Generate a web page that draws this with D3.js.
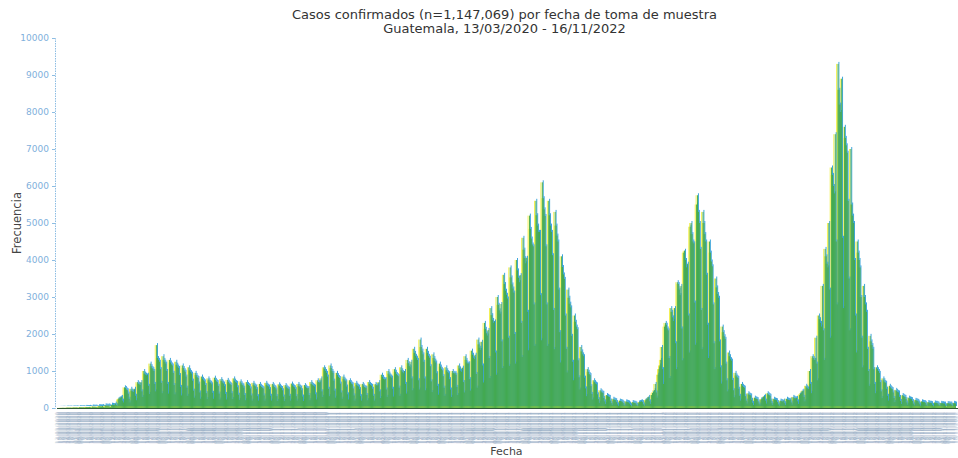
<!DOCTYPE html>
<html>
<head>
<meta charset="utf-8">
<script src="https://cdn.jsdelivr.net/npm/d3@7"></script>
<style>
body { margin: 0; background: #fff; }
text { font-family: "DejaVu Sans", Verdana, sans-serif; }
</style>
</head>
<body>
<svg width="958" height="458"></svg>
<script>
var titulo = ["Casos confirmados (n=1,147,069) por fecha de toma de muestra",
	"Guatemala, 13/03/2020 - 16/11/2022"];
var fechaInicio = "2020-03-13",
	fechaFin = "2022-11-16";
var yTicks = [0, 1000, 2000, 3000, 4000, 5000, 6000, 7000, 8000, 9000, 10000];

// casos diarios, una fila por semana (vie..jue)
var casos = [
	1,0,1,3,2,4,5,
	6,3,2,9,10,8,9,
	12,7,4,15,14,13,12,
	16,10,6,20,19,18,17,
	24,15,9,30,28,26,25,
	31,20,12,40,37,35,34,
	39,25,15,50,47,44,43,
	55,35,21,70,65,62,60,
	70,45,27,90,84,79,77,
	120,80,60,230,250,260,280,
	300,200,150,560,540,500,480,
	390,250,150,520,470,450,430,
	520,330,210,700,660,640,620,
	700,450,300,1000,930,900,880,
	900,600,380,1200,1130,1080,1050,
	1000,650,450,1700,1350,1300,1250,
	1050,680,400,1400,1300,1250,1200,
	1000,650,390,1300,1230,1180,1150,
	950,620,370,1250,1170,1120,1080,
	890,570,340,1150,1080,1020,980,
	850,550,330,1100,1020,970,930,
	740,470,280,950,890,840,810,
	660,420,250,850,790,750,720,
	620,400,240,800,750,700,680,
	640,410,250,820,760,720,700,
	600,390,230,780,730,690,660,
	590,380,230,760,710,670,650,
	620,400,240,800,740,700,680,
	560,360,220,720,670,630,610,
	550,350,210,700,650,620,600,
	530,340,200,680,630,600,580,
	510,320,200,650,600,570,550,
	530,340,200,680,630,600,580,
	510,330,200,650,610,570,550,
	500,320,190,640,600,560,540,
	480,310,190,620,580,550,530,
	510,330,200,660,610,580,560,
	510,320,200,650,600,570,550,
	480,310,190,620,580,550,530,
	540,350,210,700,650,620,600,
	580,370,230,750,700,680,700,
	800,450,300,1100,1050,1000,950,
	850,520,320,1150,1080,1000,950,
	740,470,280,950,890,840,810,
	660,420,250,850,790,750,720,
	580,370,230,750,700,660,640,
	530,340,200,680,630,600,580,
	510,320,200,650,610,570,550,
	550,350,210,700,650,620,600,
	520,330,200,650,620,600,620,
	700,450,270,900,840,790,770,
	780,500,300,1000,930,880,850,
	820,520,310,1050,980,920,890,
	860,550,330,1100,1020,970,940,
	1000,650,390,1300,1210,1140,1100,
	1250,800,480,1600,1490,1410,1360,
	1300,750,500,1850,1650,1550,1450,
	1250,800,480,1600,1490,1410,1360,
	1130,720,430,1450,1350,1280,1230,
	940,600,360,1200,1120,1060,1020,
	860,550,330,1100,1020,970,940,
	780,500,300,1000,950,930,950,
	900,570,350,1150,1070,1010,980,
	1090,700,420,1400,1300,1230,1190,
	1210,780,470,1550,1440,1360,1320,
	1440,920,550,1850,1720,1630,1570,
	1790,1150,690,2300,2140,2020,1960,
	2110,1350,810,2700,2510,2380,2300,
	2340,1500,900,3000,2790,2640,2550,
	2810,1800,1080,3600,3350,3170,3060,
	2960,1900,1140,3800,3530,3340,3230,
	3120,2000,1200,4000,3720,3520,3400,
	3590,2300,1380,4600,4280,4050,3910,
	4060,2600,1560,5200,4840,4580,4420,
	4370,2800,1680,5600,5210,4930,4760,
	4760,3050,1830,6100,5670,5370,5190,
	4370,2800,1680,5600,5210,4930,4760,
	4130,2650,1590,5300,4930,4660,4500,
	3200,2050,1230,4100,3810,3610,3490,
	2500,1600,960,3200,2980,2820,2720,
	1950,1250,750,2500,2330,2200,2130,
	1290,830,500,1650,1530,1450,1400,
	820,530,320,1050,980,920,890,
	590,380,230,750,700,660,640,
	370,240,140,480,450,420,410,
	270,180,110,350,330,310,300,
	200,130,80,250,230,220,210,
	160,100,60,200,190,180,170,
	140,90,50,180,170,160,150,
	120,80,50,160,150,140,140,
	120,80,50,150,160,170,180,
	160,100,60,200,220,240,260,
	300,180,110,350,400,430,480,
	650,420,280,900,1050,1150,1300,
	1650,1050,650,2200,2300,2250,2150,
	2100,1350,810,2700,2600,2450,2350,
	2700,1750,1050,3400,3350,3200,3050,
	3300,2150,1290,4200,4250,4000,3800,
	3900,2500,1500,4900,5000,4700,4500,
	4450,2850,1710,5500,5750,5300,5000,
	4300,2650,1590,5300,5000,4700,4500,
	3600,2250,1350,4500,4200,3960,3830,
	2800,1750,1050,3500,3260,3080,2980,
	1800,1100,660,2200,2050,1940,1870,
	1200,750,450,1500,1400,1320,1280,
	760,480,290,950,880,840,810,
	520,330,200,650,600,570,550,
	320,200,120,400,370,350,340,
	220,140,80,280,260,250,240,
	180,120,70,230,240,260,300,
	320,200,120,400,370,350,330,
	200,130,80,250,230,220,210,
	160,100,60,200,190,180,170,
	200,130,80,250,230,220,210,
	230,150,90,300,280,260,260,
	270,180,110,350,380,400,450,
	470,300,180,600,560,530,510,
	1000,650,400,1400,1350,1300,1300,
	1900,1200,750,2500,2400,2300,2200,
	3300,2100,1300,4300,4100,3900,3800,
	5000,3200,1900,6500,6300,6000,5800,
	7400,4500,2800,9300,8600,8200,8000,
	8900,4600,2700,7600,7300,7100,6900,
	5600,3500,2100,7000,5500,5200,5000,
	4000,2500,1500,4500,4200,4000,3800,
	3000,1900,1100,3300,3000,2800,2600,
	1600,1000,600,1950,1800,1700,1600,
	1050,650,400,1100,1050,1000,950,
	700,450,270,800,750,700,680,
	520,330,200,600,560,530,510,
	420,270,160,490,460,430,420,
	300,190,110,350,330,310,300,
	240,150,90,280,260,250,240,
	190,120,70,220,210,200,190,
	150,100,60,180,170,160,160,
	140,90,50,160,150,140,140,
	130,80,50,150,140,140,130,
	120,80,50,140,130,130,120,
	120,70,40,130,130,120,120,
	120,80,50,140,130,120
];

var svg = d3.select("svg"),
	mIzq = 57, mDer = 956, mSup = 38, mInf = 408;

var parse = d3.timeParse("%Y-%m-%d"),
	fmt = d3.timeFormat("%d/%m/%Y");
var fechas = d3.timeDay.range(parse(fechaInicio), d3.timeDay.offset(parse(fechaFin), 1));

var x = d3.scaleBand()
	.domain(d3.range(casos.length))
	.range([mIzq, mDer])
	.paddingInner(0);

var y = d3.scaleLinear()
	.domain([0, 10000])
	.range([mInf, mSup]);

var bw = x.bandwidth();

// capas desplazadas (efecto de la copia escaneada)
var capas = [
	{color: "#f2ef4a", dx: -1.4, dy: 0},
	{color: "#2f9fd8", dx: 0.9, dy: -2},
	{color: "#45aa48", dx: 0, dy: 0}
];

capas.forEach(function(c){
	svg.append("g")
	.attr("transform", "translate(" + c.dx + "," + c.dy + ")")
	.selectAll("rect")
	.data(casos)
	.enter().append("rect")
	.attr("x", function(d, i) { return x(i); })
	.attr("y", function(d) { return y(d); })
	.attr("width", bw)
	.attr("height", function(d) { return Math.max(0, mInf - y(d)); })
	.attr("fill", c.color);
});

// eje x
svg.append("line")
	.attr("x1", mIzq).attr("x2", 958)
	.attr("y1", mInf + 0.5).attr("y2", mInf + 0.5)
	.attr("stroke", "#2f5a35").attr("stroke-width", 1.2);

var xAxis = svg.append("g")
	.attr("transform", "translate(0," + (mInf + 4) + ")");

xAxis.selectAll("text")
	.data(fechas.slice(0, casos.length))
	.enter().append("text")
	.attr("transform", function(d, i) {
		return "translate(" + (x(i) + bw / 2 + 2) + ",0) rotate(-90)";
	})
	.attr("text-anchor", "end")
	.attr("font-size", "5.5px")
	.attr("fill", "#8fa8c2")
	.attr("fill-opacity", 0.5)
	.text(function(d) { return fmt(d); });

// eje y
var yAxis = svg.append("g")
	.attr("transform", "translate(" + (mIzq - 2) + ",0)")
	.call(d3.axisLeft(y).tickValues(yTicks).tickSize(3).tickFormat(d3.format("d")));

yAxis.select(".domain")
	.attr("stroke", "#8dbde3")
	.attr("stroke-dasharray", "1.5,1");
yAxis.selectAll(".tick line").attr("stroke", "#8dbde3");
yAxis.selectAll(".tick text")
	.attr("fill", "#7fb0dc")
	.attr("font-size", "9px")
	.attr("font-family", "DejaVu Sans, Verdana, sans-serif");

// títulos
svg.selectAll(".titulo")
	.data(titulo)
	.enter().append("text")
	.attr("class", "titulo")
	.attr("x", (mIzq + mDer) / 2 - 2)
	.attr("y", function(d, i) { return 18.5 + i * 14; })
	.attr("text-anchor", "middle")
	.attr("font-size", "13px")
	.attr("fill", "#333")
	.text(function(d) { return d; });

svg.append("text")
	.attr("transform", "translate(21," + ((mSup + mInf) / 2) + ") rotate(-90)")
	.attr("text-anchor", "middle")
	.attr("font-size", "11.5px")
	.attr("fill", "#444")
	.text("Frecuencia");

svg.append("text")
	.attr("x", (mIzq + mDer) / 2)
	.attr("y", 455)
	.attr("text-anchor", "middle")
	.attr("font-size", "11px")
	.attr("fill", "#444")
	.text("Fecha");
</script>
</body>
</html>
